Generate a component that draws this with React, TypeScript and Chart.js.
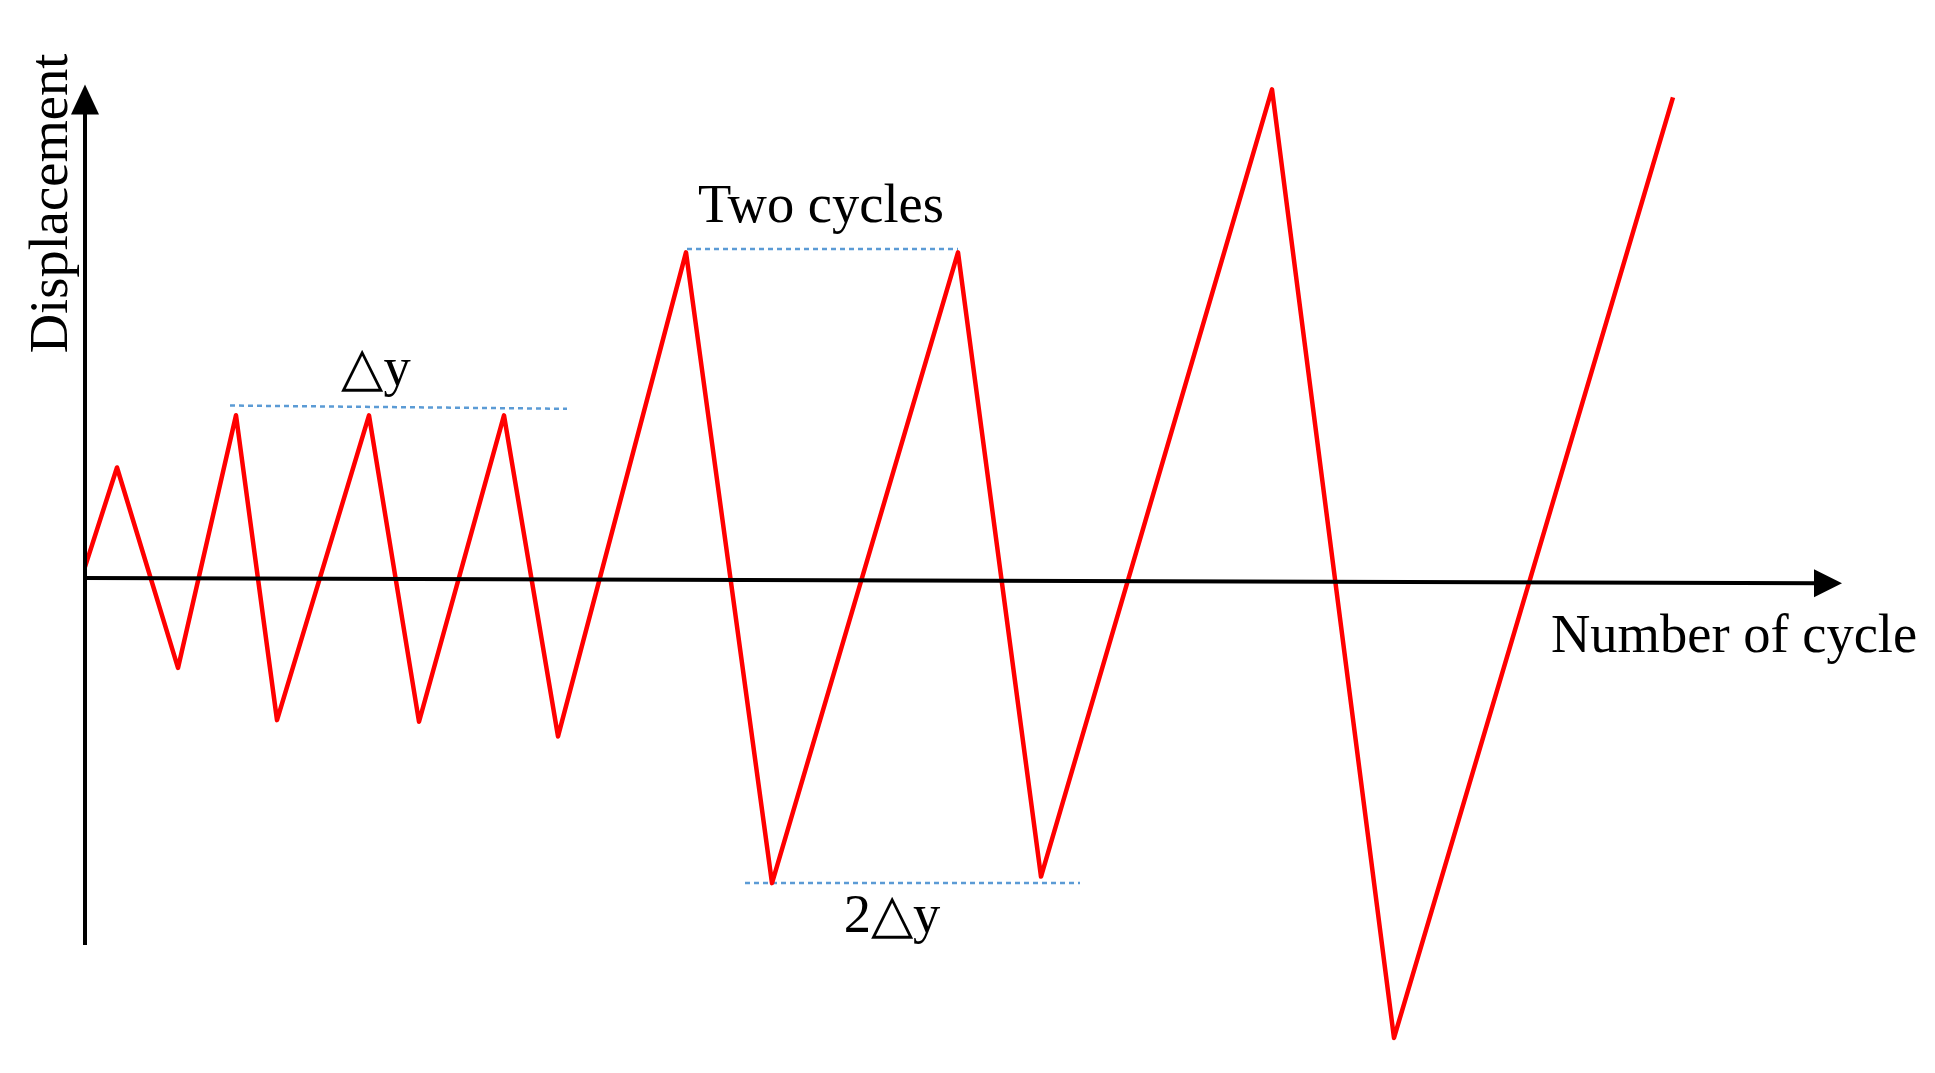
import React, { useEffect, useRef } from "react";
import { Chart, registerables } from "chart.js";

Chart.register(...registerables);

// Loading protocol (x: cycle axis units, y: displacement in Δy units)
const cycleX = [0, 1.6, 4.65, 7.55, 9.6, 14.2, 16.7, 20.95, 23.65, 30.05, 34.35, 43.65, 47.8, 59.35, 65.45, 79.4];
const displacementY = [0.08, 0.69, -0.54, 1.01, -0.86, 1.01, -0.87, 1.01, -0.96, 2.01, -1.86, 2.01, -1.82, 3.01, -2.81, 2.96];

// Reference (dotted) lines
const dyLineX = [7.25, 24.1];
const dyLineY = [1.07, 1.05];
const twoCyclesLineX = [30.1, 43.65];
const twoCyclesLineY = [2.03, 2.03];
const twoDyLineX = [33.0, 49.75];
const twoDyLineY = [-1.86, -1.86];

// Axes
const xAxisStart = [0, 0.012];
const xAxisEnd = [87.85, -0.02];
const yAxisBottom = [0, -2.24];
const yAxisTop = [0, 3.04];

// Labels
const labelTexts = ["Two cycles", "△y", "2△y", "Number of cycle"];
const labelX = [36.8, 14.55, 40.35, 73.3];
const labelY = [2.196, 1.196, -2.16, -0.44];
const labelAlign: CanvasTextAlign[] = ["center", "center", "center", "left"];
const yTitle = "Displacement";
const yTitleX = -0.9;
const yTitleY = 2.31;

const X_MIN = -4.25;
const X_MAX = 92.5;
const Y_MIN = -3.025;
const Y_MAX = 3.558;

const FONT = "54.5px 'Liberation Serif', 'Times New Roman', serif";

const pts = (xs: number[], ys: number[]) => xs.map((x, i) => ({ x, y: ys[i] }));

const annotPlugin = {
  id: "annot",
  afterDatasetsDraw(chart: any) {
    const ctx: CanvasRenderingContext2D = chart.ctx;
    const sx = chart.scales.x;
    const sy = chart.scales.y;
    const px = (v: number) => sx.getPixelForValue(v);
    const py = (v: number) => sy.getPixelForValue(v);
    ctx.save();
    ctx.strokeStyle = "#000";
    ctx.fillStyle = "#000";
    ctx.lineWidth = 4;
    ctx.lineCap = "butt";
    // x axis
    const x0 = px(xAxisStart[0]);
    const y0 = py(xAxisStart[1]);
    const x1 = px(xAxisEnd[0]);
    const y1 = py(xAxisEnd[1]);
    ctx.beginPath();
    ctx.moveTo(x0, y0);
    ctx.lineTo(x1 - 20, y1);
    ctx.stroke();
    ctx.beginPath();
    ctx.moveTo(x1, y1);
    ctx.lineTo(x1 - 28, y1 - 14);
    ctx.lineTo(x1 - 28, y1 + 14);
    ctx.closePath();
    ctx.fill();
    // y axis
    const ax = px(yAxisBottom[0]);
    const ayb = py(yAxisBottom[1]);
    const ayt = py(yAxisTop[1]);
    ctx.beginPath();
    ctx.moveTo(ax, ayb);
    ctx.lineTo(ax, ayt + 20);
    ctx.stroke();
    ctx.beginPath();
    ctx.moveTo(ax, ayt);
    ctx.lineTo(ax - 14, ayt + 30);
    ctx.lineTo(ax + 14, ayt + 30);
    ctx.closePath();
    ctx.fill();
    // labels
    ctx.font = FONT;
    ctx.textBaseline = "alphabetic";
    labelTexts.forEach((t, i) => {
      ctx.textAlign = labelAlign[i];
      ctx.fillText(t, px(labelX[i]), py(labelY[i]));
    });
    ctx.translate(px(yTitleX), py(yTitleY));
    ctx.rotate(-Math.PI / 2);
    ctx.textAlign = "center";
    ctx.fillText(yTitle, 0, 0);
    ctx.restore();
  },
};

export default function App() {
  const ref = useRef<HTMLCanvasElement | null>(null);
  useEffect(() => {
    document.body.style.margin = "0";
    document.body.style.overflow = "hidden";
    if (!ref.current) return;
    const dotted = {
      borderColor: "#5b9bd5",
      borderWidth: 2.5,
      borderDash: [5, 4],
      pointRadius: 0,
      tension: 0,
      fill: false,
    };
    const chart = new Chart(ref.current, {
      type: "line",
      data: {
        datasets: [
          {
            data: pts(cycleX, displacementY),
            borderColor: "#ff0000",
            borderWidth: 4.5,
            borderJoinStyle: "round",
            pointRadius: 0,
            tension: 0,
            fill: false,
          } as any,
          { ...dotted, data: pts(dyLineX, dyLineY) } as any,
          { ...dotted, data: pts(twoCyclesLineX, twoCyclesLineY) } as any,
          { ...dotted, data: pts(twoDyLineX, twoDyLineY) } as any,
        ],
      },
      options: {
        animation: false,
        responsive: false,
        maintainAspectRatio: false,
        devicePixelRatio: 1,
        layout: { padding: 0 },
        plugins: { legend: { display: false }, tooltip: { enabled: false } },
        scales: {
          x: { type: "linear", display: false, min: X_MIN, max: X_MAX },
          y: { type: "linear", display: false, min: Y_MIN, max: Y_MAX },
        },
      },
      plugins: [annotPlugin],
    });
    return () => chart.destroy();
  }, []);
  return (
    <div style={{ width: 1935, height: 1073, background: "#fff" }}>
      <canvas ref={ref} width={1935} height={1073} style={{ display: "block" }} />
    </div>
  );
}
